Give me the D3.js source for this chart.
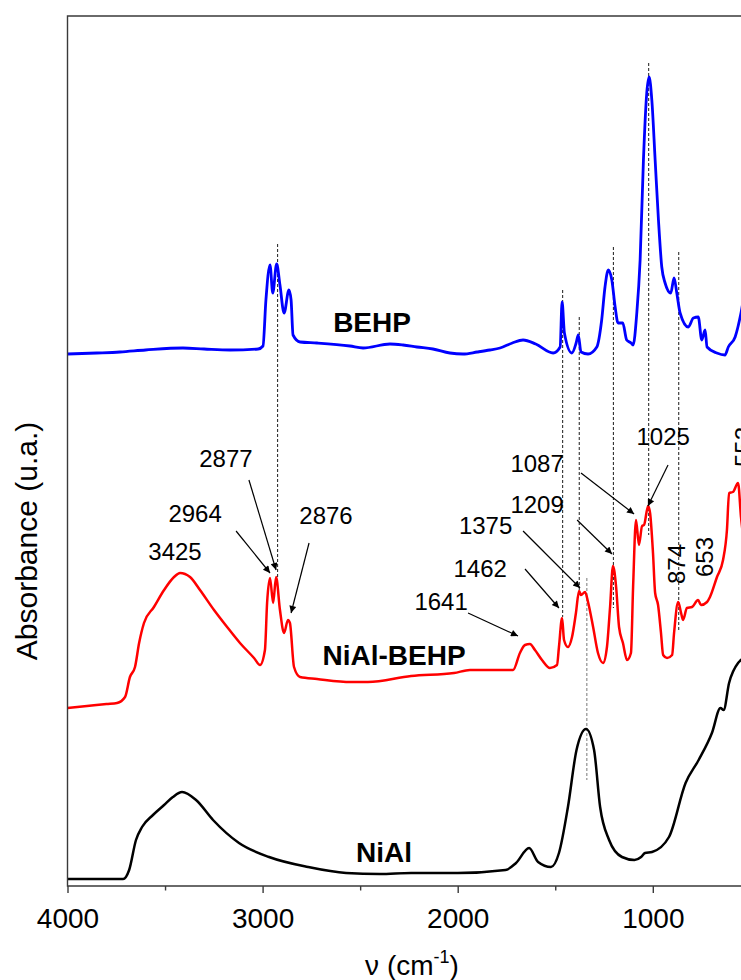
<!DOCTYPE html>
<html>
<head>
<meta charset="utf-8">
<script src="https://cdn.jsdelivr.net/npm/d3@7"></script>
<style>
  body { margin: 0; background: #fff; }
  svg { display: block; font-family: "Liberation Sans", Arial, sans-serif; }
</style>
</head>
<body>
<svg id="chart" width="741" height="980"></svg>
<script>
// spectra: [wavenumber cm-1, absorbance (arbitrary)]
const behp = [[4000,53.2],[3850,53.3],[3731,53.4],[3600,53.6],[3408,53.8],[3300,53.7],[3167,53.6],[3023,53.7],[2998,54.0],[2983,58.6],[2962,62.1],[2948,59.3],[2928,62.2],[2911,60.1],[2890,57.3],[2865,59.6],[2854,58.6],[2844,55.1],[2808,54.4],[2721,54.3],[2552,54.0],[2485,53.8],[2347,54.2],[2280,54.1],[2209,53.9],[2127,53.7],[2040,53.3],[1973,53.2],[1900,53.4],[1835,53.6],[1783,53.8],[1720,54.3],[1665,54.6],[1600,54.2],[1511,53.3],[1475,53.9],[1465,58.4],[1453,55.3],[1415,53.3],[1393,54.3],[1382,55.1],[1368,53.4],[1332,53.2],[1287,53.9],[1262,56.6],[1245,59.9],[1228,61.6],[1210,60.6],[1193,57.9],[1178,56.3],[1154,56.3],[1134,54.6],[1111,54.3],[1101,54.1],[1082,57.3],[1065,62.6],[1048,72.6],[1031,79.3],[1019,80.9],[1005,78.6],[988,72.6],[971,66.6],[954,61.9],[937,60.3],[908,59.3],[891,60.8],[877,59.3],[860,57.3],[818,55.9],[792,56.8],[767,56.9],[749,54.6],[732,55.6],[722,53.9],[672,53.3],[630,53.1],[613,53.9],[578,54.9],[548,57.3],[520,60.5],[480,63],[400,64]];

const nialBehp = [[4000,17.8],[3900,18.0],[3800,18.2],[3746,18.3],[3705,18.9],[3680,20.9],[3654,21.9],[3633,24.3],[3608,26.3],[3557,27.9],[3505,29.6],[3454,30.9],[3423,31.3],[3372,30.9],[3321,29.6],[3249,27.6],[3182,25.9],[3116,24.3],[3044,22.8],[3013,22.1],[2988,23.6],[2977,28.3],[2962,30.8],[2946,28.3],[2931,30.9],[2911,27.6],[2890,25.3],[2870,26.6],[2860,26.3],[2839,21.9],[2808,20.9],[2721,20.7],[2547,20.4],[2460,20.4],[2239,21.0],[2019,21.3],[1937,21.6],[1755,21.6],[1716,21.6],[1681,23.3],[1655,24.1],[1630,24.2],[1604,23.6],[1568,22.6],[1527,21.8],[1491,22.1],[1481,23.9],[1465,26.8],[1455,24.6],[1435,23.9],[1414,24.9],[1394,27.3],[1378,29.5],[1368,29.1],[1347,29.4],[1332,28.4],[1306,25.9],[1281,23.3],[1255,22.3],[1235,23.9],[1219,27.9],[1204,32.0],[1188,29.9],[1173,25.9],[1153,24.3],[1132,22.6],[1112,23.3],[1101,29.9],[1086,36.6],[1071,34.1],[1055,36.0],[1045,36.1],[1024,38.0],[1014,37.3],[999,33.3],[988,29.3],[973,28.1],[958,25.3],[947,23.1],[927,22.8],[901,23.1],[891,25.3],[870,28.4],[855,27.3],[845,26.6],[825,27.8],[799,27.9],[768,28.6],[753,28.1],[722,28.4],[707,28.9],[671,30.9],[640,32.6],[620,35.6],[609,39.3],[589,39.4],[563,40.3],[548,36.9],[520,33],[480,31],[400,30]];

const nial = [[4000,0.7],[3850,0.7],[3715,0.7],[3684,1.6],[3649,4.6],[3618,5.9],[3562,7.1],[3505,8.1],[3460,8.9],[3413,9.4],[3341,8.6],[3254,6.6],[3121,4.3],[2967,2.9],[2767,1.9],[2572,1.3],[2400,1.2],[2239,1.3],[2000,1.3],[1755,1.6],[1701,2.3],[1634,3.8],[1588,2.4],[1522,1.9],[1481,3.3],[1435,7.9],[1391,13.6],[1342,15.7],[1301,13.6],[1270,7.9],[1224,4.6],[1158,2.9],[1094,2.6],[1060,2.9],[1040,3.3],[1004,3.4],[917,4.9],[832,10.3],[765,12.6],[697,15.3],[653,17.8],[637,17.6],[609,20.3],[563,22.3],[548,22.6],[500,23.5],[400,24]];

const seriesNames = ["BEHP", "NiAl-BEHP", "NiAl"];
const seriesColors = ["#0000ff", "#ff0000", "#000000"];
// label position for each series name: [wavenumber, absorbance]
const seriesLabelPos = [[2439, 55.4], [2326, 22.1], [2378, 2.4]];

const majorTicks = [4000, 3000, 2000, 1000];
const minorTicks = [3500, 2500, 1500, 500];

// vertical guide lines: wavenumber, top, bottom
const guides = [[2923, 64.2, 30.9], [1462, 59.6, 26.9], [1377, 56.9, 29.6], [1202, 63.9, 27.8], [1021, 82.3, 35.1], [867, 63.4, 25.6]];
const guideNiAl = [1338, 30.8, 10.6];

// peak labels: text, wavenumber, absorbance, rotated
const peakLabels = [["3425",3449,32.6,false],["2964",3346,36.4,false],["2877",3188,41.9,false],["2876",2675,36.2,false],["1641",2085,27.6,false],["1462",1885,30.9,false],["1375",1857,35.2,false],["1209",1593,37.3,false],["1087",1593,41.4,false],["1025",947,44.1,false],["874",835,32.2,true],["653",691,32.9,true],["552",491,43.9,true]];

// arrows: from [wn, abs] to [wn, abs]
const arrows = [[3136,35.5,2962,31.3],[3070,40.6,2931,31.6],[2762,34.3,2854,27.3],[1947,27.3,1691,25.0],[1655,31.7,1481,27.8],[1665,35.5,1373,29.8],[1388,36.6,1209,33.2],[1368,41.3,1096,37.2],[922,42.1,1025,38.0]];

const svg = d3.select("#chart");
const mLeft = 67.5, mTop = 16, mBottom = 886;

const x = d3.scaleLinear().domain([4000, 400]).range([mLeft, mLeft + 3600 * 0.1951]);
const y = d3.scaleLinear().domain([0, 87]).range([mBottom, mTop]);

svg.append("defs").append("marker")
    .attr("id", "head")
    .attr("viewBox", "0 0 10 10")
    .attr("refX", 10).attr("refY", 5)
    .attr("markerWidth", 11).attr("markerHeight", 7)
    .attr("markerUnits", "userSpaceOnUse")
    .attr("orient", "auto")
    .append("path").attr("d", "M0,0L10,5L0,10z").attr("fill", "#000");

// guide lines
svg.selectAll(".guide")
    .data(guides)
    .enter().append("line")
    .attr("class", "guide")
    .attr("x1", d => x(d[0])).attr("x2", d => x(d[0]))
    .attr("y1", d => y(d[1])).attr("y2", d => y(d[2]))
    .attr("stroke", "#000").attr("stroke-width", 0.9)
    .attr("stroke-dasharray", "3,2");

svg.append("line")
    .attr("x1", x(guideNiAl[0])).attr("x2", x(guideNiAl[0]))
    .attr("y1", y(guideNiAl[1])).attr("y2", y(guideNiAl[2]))
    .attr("stroke", "#777").attr("stroke-width", 1)
    .attr("stroke-dasharray", "3,2");

// spectra
let line = d3.line()
    .x(d => x(d[0]))
    .y(d => y(d[1]))
    .curve(d3.curveMonotoneX);

[behp, nialBehp, nial].forEach(function (data, i) {
    svg.append("path")
        .datum(data)
        .attr("fill", "none")
        .attr("stroke", seriesColors[i])
        .attr("stroke-width", i == 0 ? 2.8 : 2.5)
        .attr("stroke-linejoin", "round")
        .attr("d", line);
});

// series names
svg.selectAll(".sname")
    .data(seriesNames)
    .enter().append("text")
    .attr("class", "sname")
    .attr("x", (d, i) => x(seriesLabelPos[i][0]))
    .attr("y", (d, i) => y(seriesLabelPos[i][1]))
    .attr("text-anchor", "middle")
    .attr("font-size", "28px")
    .attr("font-weight", "bold")
    .text(d => d);

// arrows
svg.selectAll(".arrow")
    .data(arrows)
    .enter().append("line")
    .attr("class", "arrow")
    .attr("x1", d => x(d[0])).attr("y1", d => y(d[1]))
    .attr("x2", d => x(d[2])).attr("y2", d => y(d[3]))
    .attr("stroke", "#000").attr("stroke-width", 1.2)
    .attr("marker-end", "url(#head)");

// peak labels
svg.selectAll(".peak")
    .data(peakLabels)
    .enter().append("text")
    .attr("class", "peak")
    .attr("text-anchor", "middle")
    .attr("font-size", "24px")
    .attr("transform", d => `translate(${x(d[1])},${y(d[2])})` + (d[3] ? " rotate(-90)" : ""))
    .text(d => d[0]);

// frame
svg.append("path")
    .attr("d", `M${x(400)},${mTop}H${mLeft}V${mBottom}H${x(400)}`)
    .attr("fill", "none")
    .attr("stroke", "#3a3a3a")
    .attr("stroke-width", 1.4);

let xAxis = svg.append("g")
    .attr("transform", `translate(0,${mBottom})`)
    .call(d3.axisBottom(x).tickValues(majorTicks).tickSize(7).tickFormat(d => d));
xAxis.select(".domain").remove();
xAxis.selectAll("line").attr("stroke", "#3a3a3a").attr("stroke-width", 1.4);
xAxis.selectAll("text")
    .attr("font-family", "'Liberation Sans', Arial, sans-serif")
    .attr("font-size", "28px")
    .attr("fill", "#000")
    .attr("dy", null)
    .attr("y", 42);

let minorAxis = svg.append("g")
    .attr("transform", `translate(0,${mBottom})`)
    .call(d3.axisBottom(x).tickValues(minorTicks).tickSize(4.5).tickFormat(""));
minorAxis.select(".domain").remove();
minorAxis.selectAll("line").attr("stroke", "#3a3a3a").attr("stroke-width", 1.4);

// axis titles
svg.append("text")
    .attr("transform", "translate(37,541) rotate(-90)")
    .attr("text-anchor", "middle")
    .attr("font-size", "30px")
    .text("Absorbance (u.a.)");

let xt = svg.append("text")
    .attr("x", 412).attr("y", 975)
    .attr("text-anchor", "middle")
    .attr("font-size", "28px");
xt.append("tspan").text("\u03bd (cm");
xt.append("tspan").attr("font-size", "18px").attr("dy", -12).text("-1");
xt.append("tspan").attr("dy", 12).text(")");
</script>
</body>
</html>
